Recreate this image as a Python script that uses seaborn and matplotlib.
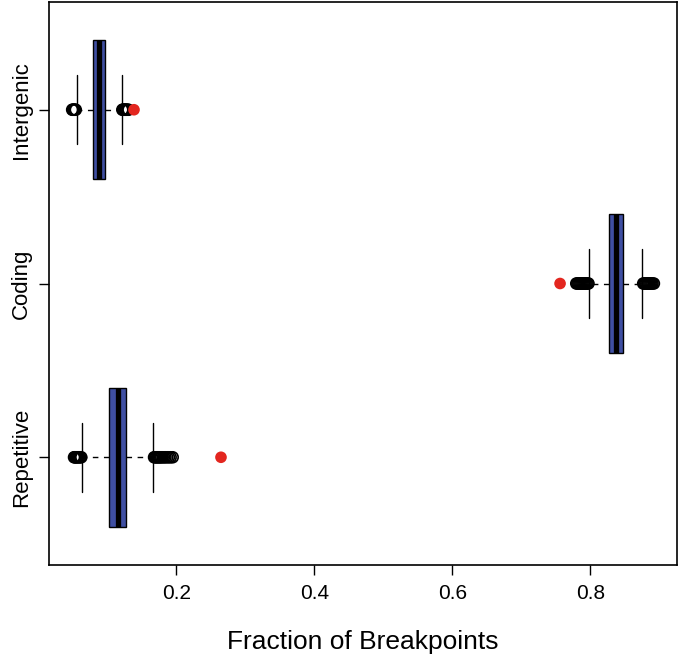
import matplotlib
matplotlib.use("Agg")
import matplotlib.pyplot as plt
import seaborn as sns
import pandas as pd

categories = ["Repetitive", "Coding", "Intergenic"]
q1 = [0.1017, 0.8268, 0.0794]
median = [0.1148, 0.8370, 0.0877]
q3 = [0.1272, 0.8467, 0.0964]
whisker_lo = [0.0635, 0.7980, 0.0562]
whisker_hi = [0.1660, 0.8750, 0.1206]
outliers_repetitive = [0.0515, 0.0525, 0.0535, 0.0548, 0.0560, 0.0575, 0.0590, 0.0605, 0.0620,
                       0.1675, 0.1690, 0.1705, 0.1720, 0.1735, 0.1750, 0.1765, 0.1780, 0.1800,
                       0.1820, 0.1840, 0.1865, 0.1890, 0.1915, 0.1945]
outliers_coding = [0.7795, 0.7810, 0.7825, 0.7840, 0.7855, 0.7870, 0.7885, 0.7900, 0.7915,
                   0.7930, 0.7945, 0.7960, 0.7972,
                   0.8765, 0.8780, 0.8795, 0.8810, 0.8825, 0.8840, 0.8855, 0.8870, 0.8885,
                   0.8900, 0.8920]
outliers_intergenic = [0.0488, 0.0498, 0.0508, 0.0518, 0.0528, 0.0540,
                       0.1215, 0.1225, 0.1235, 0.1245, 0.1255, 0.1265, 0.1275, 0.1290, 0.1305]
observed = [0.2645, 0.7560, 0.1384]
x_ticks = [0.2, 0.4, 0.6, 0.8]

sns.set_style("ticks")
plt.rcParams["font.family"] = ["Liberation Sans", "DejaVu Sans"]
for k in ["text.color", "axes.labelcolor", "xtick.color", "ytick.color"]:
    plt.rcParams[k] = "black"

fig = plt.figure(figsize=(6.8, 6.61), dpi=100)
ax = fig.add_axes([49/680, (661-565)/661, (677-49)/680, (565-2)/661])

outlier_lists = [outliers_repetitive, outliers_coding, outliers_intergenic]
stats = []
for i, name in enumerate(categories):
    stats.append(dict(label=name, q1=q1[i], med=median[i], q3=q3[i],
                      whislo=whisker_lo[i], whishi=whisker_hi[i], fliers=[]))

positions = [1, 2, 3]
ax.bxp(stats, positions=positions, vert=False, widths=0.8, capwidths=0.4,
       patch_artist=True, showfliers=False,
       boxprops=dict(facecolor="#3f4fa2", edgecolor="black", linewidth=1.0),
       medianprops=dict(color="black", linewidth=3.8, solid_capstyle="butt"),
       whiskerprops=dict(color="black", linewidth=1.0, linestyle=(0, (4, 4))),
       capprops=dict(color="black", linewidth=1.0))

rows = []
for pos, lst in zip(positions, outlier_lists):
    for v in lst:
        rows.append({"x": v, "y": pos})
df_out = pd.DataFrame(rows)
sns.scatterplot(data=df_out, x="x", y="y", ax=ax, s=62, marker="o",
                facecolor="none", edgecolor="black", linewidth=1.2, zorder=4)

df_obs = pd.DataFrame({"x": observed, "y": positions})
sns.scatterplot(data=df_obs, x="x", y="y", ax=ax, s=70, color="#e3261f",
                edgecolor="none", zorder=5)

ax.set_xlim(0.0152, 0.9255)
ax.set_ylim(0.38, 3.62)
ax.set_yticks(positions)
ax.set_yticklabels(categories, rotation=90, va="center", fontsize=16)
ax.set_xticks(x_ticks)
ax.set_xticklabels([f"{t:.1f}" for t in x_ticks], fontsize=15)
ax.tick_params(axis="x", length=7, width=1.0, color="black", pad=7)
ax.tick_params(axis="y", length=7, width=1.0, color="black", pad=5)
ax.set_xlabel("Fraction of Breakpoints", fontsize=19, labelpad=19)
ax.set_ylabel("")
for s in ax.spines.values():
    s.set_color("black")
    s.set_linewidth(1.2)

fig.savefig("out.png", dpi=100)
